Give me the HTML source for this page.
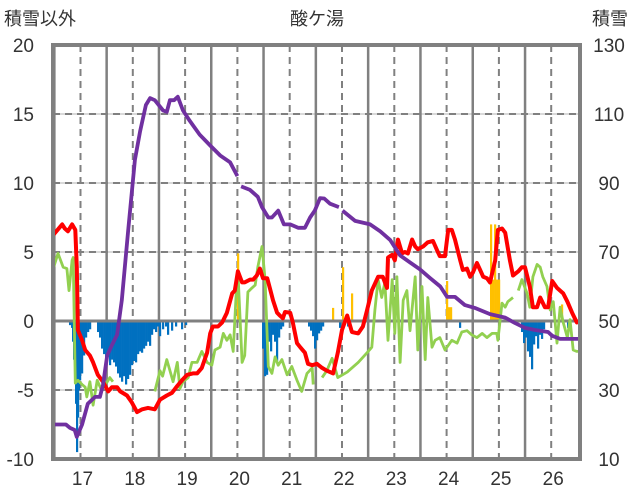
<!DOCTYPE html>
<html><head><meta charset="utf-8">
<style>
html,body{margin:0;padding:0;background:#fff;}
#wrap{position:relative;width:636px;height:501px;overflow:hidden;font-family:"Liberation Sans","Noto Sans CJK JP",sans-serif;}
svg text{font-family:"Liberation Sans","Noto Sans CJK JP",sans-serif;fill:#333;}
</style></head>
<body>
<div id="wrap">
<svg id="chart" width="636" height="501"></svg>
</div>
<script>
// ---- data ----
const xTicks = [17,18,19,20,21,22,23,24,25,26];
const leftTicks = [-10,-5,0,5,10,15,20];
const rightTicks = [10,30,50,70,90,110,130];

const purpleDays = [16.47,16.72,16.80,16.89,16.93,17.03,17.14,17.28,17.37,17.43,17.51,17.60,17.70,17.79,17.91,18.04,18.14,18.25,18.33,18.42,18.58,18.65,18.71,18.79,18.86,18.96,19.09,19.28,19.47,19.67,19.86,20.00,20.03,20.07,20.24,20.39,20.47,20.59,20.66,20.78,20.89,21.01,21.16,21.29,21.39,21.48,21.58,21.66,21.77,21.94,21.97,22.01,22.25,22.54,22.73,22.92,23.11,23.30,23.49,23.68,23.88,24.01,24.16,24.35,24.54,24.83,25.12,25.31,25.50,25.69,25.94,26.02,26.17,26.55];
const purpleVals = [20,20,19,18.4,16.4,20,26,28,28,31.5,40,43,46,56,76,96.7,105,112.6,114.6,114,111,110.6,114,114,115,111,108,104,101,98,96,92,null,89,88,86,83,80,80,82,78,78,77,77,80,82,85.6,85.5,84,83,null,82,79,78,76,73.5,69,67,65,62.5,60,57,57,54.6,53.8,52,51,49.4,48,47.4,46.8,45.7,44.8,44.8];

const redDays = [16.47,16.65,16.70,16.76,16.84,16.90,16.93,16.95,17.03,17.09,17.18,17.24,17.33,17.43,17.53,17.60,17.70,17.76,17.89,17.98,18.08,18.18,18.29,18.42,18.52,18.65,18.75,18.85,18.94,19.04,19.15,19.23,19.32,19.42,19.48,19.53,19.63,19.71,19.80,19.90,19.95,20.01,20.09,20.14,20.24,20.30,20.37,20.43,20.49,20.57,20.62,20.68,20.76,20.81,20.87,20.91,21.01,21.06,21.14,21.20,21.29,21.35,21.43,21.52,21.62,21.71,21.83,21.92,22.00,22.10,22.19,22.31,22.40,22.48,22.57,22.69,22.78,22.86,22.88,22.96,23.01,23.07,23.15,23.20,23.26,23.34,23.40,23.45,23.55,23.64,23.74,23.82,23.87,23.97,24.03,24.10,24.16,24.26,24.31,24.39,24.45,24.50,24.58,24.64,24.70,24.77,24.83,24.93,24.98,25.06,25.12,25.21,25.27,25.37,25.44,25.50,25.59,25.65,25.73,25.79,25.88,25.94,26.02,26.11,26.23,26.31,26.40,26.49,26.53];
const redVals = [6.2,7.0,6.7,6.5,7.0,6.6,3.9,-0.65,-1.4,-2.1,-2.5,-3.0,-3.9,-4.4,-5.1,-4.8,-4.8,-5.1,-5.4,-5.9,-6.6,-6.4,-6.3,-6.4,-5.7,-5.4,-5.2,-4.7,-4.3,-3.9,-3.8,-3.8,-3.4,-2.3,-0.9,-0.4,-0.4,-0.1,0.6,2.0,2.2,3.6,2.8,2.8,3.0,3.0,3.3,3.8,3.1,3.1,2.4,1.5,0.6,0.4,0.2,0.65,0.6,-0.1,-1.6,-1.9,-2.3,-3.1,-3.2,-3.1,-3.4,-3.6,-3.8,-2.3,-0.65,0.4,-0.8,-0.9,-0.4,0.8,2.2,3.2,3.2,2.4,4.6,4.8,4.4,5.9,4.9,5.0,4.9,5.9,5.4,5.2,5.4,5.7,5.8,5.1,4.7,4.7,6.6,6.6,5.9,4.4,3.7,3.8,3.2,3.5,4.2,3.7,3.2,3.1,2.8,4.4,6.6,6.7,6.4,4.4,3.3,3.6,3.9,3.9,2.5,1.0,1.0,1.7,1.0,1.0,2.9,2.4,2.0,1.4,0.6,-0.1,0];

const greenDays = [16.47,16.57,16.67,16.74,16.78,16.84,16.86,16.90,16.95,17.03,17.09,17.12,17.18,17.24,17.32,17.40,17.48,17.56,17.62,17.70,18.42,18.52,18.57,18.65,18.68,18.77,18.85,18.90,18.96,19.06,19.13,19.23,19.32,19.42,19.51,19.57,19.67,19.73,19.80,19.86,19.92,19.99,20.01,20.09,20.14,20.20,20.28,20.34,20.39,20.47,20.53,20.59,20.66,20.72,20.78,20.85,20.95,21.04,21.14,21.23,21.33,21.43,21.45,21.53,21.62,21.71,21.81,21.92,22.10,22.31,22.48,22.57,22.63,22.69,22.76,22.82,22.88,22.96,23.01,23.05,23.11,23.17,23.24,23.30,23.40,23.45,23.53,23.59,23.64,23.72,23.78,23.87,23.97,24.10,24.20,24.29,24.39,24.48,24.58,24.68,24.77,24.87,24.96,24.98,25.06,25.12,25.17,25.27,25.32,25.37,25.44,25.54,25.59,25.65,25.73,25.79,25.84,25.92,25.98,26.04,26.11,26.17,26.23,26.31,26.36,26.42,26.49,26.53];
const greenVals = [3.7,4.9,3.9,3.8,2.2,4.4,4.6,-4.5,-4.3,-4.6,-4.8,-5.5,-4.4,-6.1,-4.3,-5.0,-4.6,-4.1,-4.4,null,-5.1,-3.6,-4.0,-2.8,-3.2,-4.4,-3.0,-4.9,-4.4,-4.1,-3.0,-3.0,-2.2,-3.0,-3.2,-2.1,-1.9,-0.9,-1.4,-1.0,-2.2,3.0,3.6,-3.0,-2.5,2.1,2.4,2.6,3.9,5.4,3.0,-3.3,-3.8,-2.6,-3.2,-2.8,-3.9,-3.3,-4.3,-5.1,-3.8,-3.4,-4.6,null,-4.1,-3.6,-2.7,-4.1,-3.7,-3.0,-2.3,-1.9,0.8,3.0,1.7,2.8,-1.4,3.0,-0.9,3.2,-3.0,1.5,2.2,-0.7,3.2,-2.1,2.5,-2.8,1.7,-1.9,-1.4,-1.2,-2.1,-1.4,-1.6,-0.8,-0.7,-1.0,-1.2,-0.9,-1.2,-0.9,-0.9,-1.4,1.3,1.0,1.4,1.7,null,2.2,3.0,2.0,1.0,3.2,4.1,3.9,3.2,2.5,0.8,1.4,-1.6,1.0,-0.1,-1.2,0.1,-2.1,-2.2,-2.2];

const blueDays = [16.799,16.838,16.857,16.876,16.895,16.914,16.933,16.952,16.971,16.991,17.029,17.067,17.105,17.144,17.182,17.335,17.373,17.411,17.450,17.488,17.526,17.564,17.603,17.641,17.679,17.717,17.755,17.794,17.832,17.870,17.908,17.947,17.985,18.023,18.061,18.100,18.138,18.176,18.214,18.253,18.291,18.329,18.367,18.405,18.444,18.482,18.520,18.578,18.635,18.673,18.750,18.826,18.941,19.017,20.490,20.528,20.566,20.604,20.643,20.681,20.719,20.757,20.796,20.834,20.872,21.369,21.407,21.446,21.484,21.522,21.560,21.599,21.637,21.962,22.115,24.256,25.442,25.480,25.518,25.556,25.595,25.633,25.671,25.709,25.748,25.786,25.824,25.862,26.321];
const blueVals = [-0.3,-0.5,-1.5,-2.8,-4.5,-6.0,-9.5,-7.0,-5.0,-4.3,-3.8,-2.5,-1.2,-0.8,-0.6,-0.8,-1.2,-2.0,-2.4,-2.8,-2.6,-3.2,-2.8,-3.0,-3.3,-3.8,-4.1,-4.4,-4.0,-4.6,-4.2,-3.9,-3.2,-2.9,-3.0,-2.4,-2.2,-2.3,-2.0,-1.8,-1.5,-1.8,-1.0,-0.6,-0.8,-0.4,-1.1,-0.6,-0.4,-1.0,-0.7,-0.4,-0.6,-0.3,-2.0,-4.0,-3.9,-1.5,-2.2,-1.0,-1.5,-2.9,-1.2,-0.6,-0.4,-0.4,-0.7,-1.1,-2.0,-1.4,-0.9,-0.7,-0.4,-0.5,-0.4,-0.5,-0.8,-1.6,-1.2,-2.2,-2.6,-3.5,-1.7,-1.1,-2.0,-1.0,-1.3,-0.6,-0.5];

const orangeDays = [20.012,21.828,22.019,22.191,24.008,24.046,24.084,24.849,24.887,24.926,24.964,25.002,26.206];
const orangeVals = [4.9,0.95,3.9,2.0,2.9,1.0,1.0,7.0,3.0,7.0,3.0,3.0,1.2];

// ---- axes ----
const PL=53, PR=580, PT=45, PB=459;
const X = d => 80.5 + (d-17)*52.3;
const YL = v => 321 - v*13.8;
const YR = r => YL((r-50)/4);
const NS='http://www.w3.org/2000/svg';
const svg=document.getElementById('chart');
function mk(tag,attrs,parent){const e=document.createElementNS(NS,tag);for(const k in attrs)e.setAttribute(k,attrs[k]);(parent||svg).appendChild(e);return e;}

const grid=mk('g',{});


leftTicks.forEach(v=>{ if(v===0||v===20||v===-10) return;
  mk('line',{x1:PL,x2:PR,y1:YL(v),y2:YL(v),stroke:'#d9d9d9','stroke-width':2},grid);
  mk('line',{x1:PL,x2:PR,y1:YL(v),y2:YL(v),stroke:'#808080','stroke-width':2,'stroke-dasharray':'7,5'},grid);
});
xTicks.forEach(d=>{
  mk('line',{x1:X(d),x2:X(d),y1:PT,y2:PB,stroke:'#808080','stroke-width':2,'stroke-dasharray':'7,5'},grid);
  if(d<26) mk('line',{x1:X(d+0.5),x2:X(d+0.5),y1:PT,y2:PB,stroke:'#808080','stroke-width':2.5},grid);
});
mk('line',{x1:X(16.5),x2:X(16.5),y1:PT,y2:PB,stroke:'#808080','stroke-width':2.5},grid);

// bars
const bars=mk('g',{});


blueDays.forEach((d,i)=>{
  const r=mk('rect',{x:X(d)-1,y:YL(0),width:2.2,height:YL(blueVals[i])-YL(0),fill:'#0070c0'},bars);
  
  
});
const obars=mk('g',{});


orangeDays.forEach((d,i)=>{
  const r=mk('rect',{x:X(d)-1,y:YL(orangeVals[i]),width:2.2,height:YL(0)-YL(orangeVals[i]),fill:'#ffc000'},obars);
  
  
});

// zero line
const z=mk('line',{x1:PL,x2:PR,y1:YL(0),y2:YL(0),stroke:'#808080','stroke-width':3});



function pathFor(days,vals,yf){let d='',pen=false;days.forEach((t,i)=>{const v=vals[i];if(v===null){pen=false;return;}d+=(pen?'L':'M')+X(t).toFixed(1)+' '+yf(v).toFixed(1)+' ';pen=true;});return d;}

const g=mk('path',{d:pathFor(greenDays,greenVals,YL),fill:'none',stroke:'#92d050','stroke-width':2.8,'stroke-linejoin':'round'});


const r=mk('path',{d:pathFor(redDays,redVals,YL),fill:'none',stroke:'#ff0000','stroke-width':4,'stroke-linejoin':'round'});


const p=mk('path',{d:pathFor(purpleDays,purpleVals,YR),fill:'none',stroke:'#7030a0','stroke-width':3.8,'stroke-linejoin':'round'});



// frame
const f=mk('rect',{x:PL,y:PT,width:PR-PL,height:PB-PT,fill:'none',stroke:'#808080','stroke-width':4});



// tick labels
leftTicks.forEach(v=>{
  const t=mk('text',{x:34,y:YL(v)+7,'text-anchor':'end','font-size':19});
  t.textContent=v;
  
  
});
rightTicks.forEach(v=>{
  const t=mk('text',{x:609,y:YR(v)+7,'text-anchor':'middle','font-size':19});
  t.textContent=v;
  
  
});
xTicks.forEach(d=>{
  const t=mk('text',{x:X(d)+2,y:485,'text-anchor':'middle','font-size':19});
  t.textContent=d;
  
  
});
const t1=mk('text',{x:4,y:25,'font-size':18});
t1.textContent='積雪以外';


const t2=mk('text',{x:317,y:25,'text-anchor':'middle','font-size':18});
t2.textContent='酸ケ湯';


const t3=mk('text',{x:628,y:25,'text-anchor':'end','font-size':18});
t3.textContent='積雪';


</script>
</body></html>
